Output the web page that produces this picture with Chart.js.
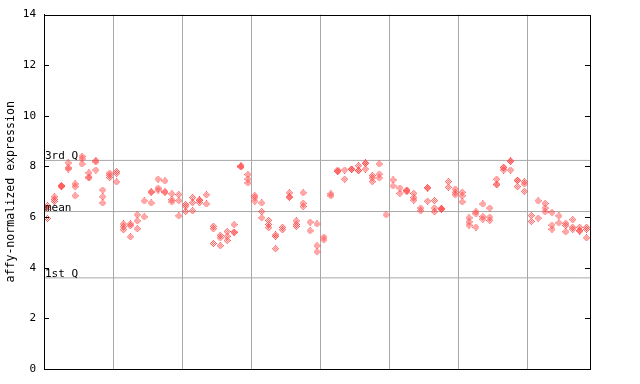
<!DOCTYPE html>
<html>
<head>
<meta charset="utf-8">
<script src="https://cdn.jsdelivr.net/npm/chart.js@4/dist/chart.umd.min.js"></script>
<style>
    html, body { margin: 0; padding: 0; background: #fff; }
    canvas { display: block; }
</style>
</head>
<body>
<canvas id="exprChart" width="640" height="384"></canvas>
<script>
// replicate values per sample (one inner array per sample column)
const sampleValues = [
    [6.45, 6.35, 5.95], [6.8, 6.7, 6.62], [7.25, 7.2, 7.22], [8.14, 7.95, 7.9],
    [7.31, 7.2, 6.84], [8.4, 8.3, 8.1], [7.75, 7.58, 7.55], [8.23, 8.18, 7.86],
    [7.07, 6.8, 6.56], [7.74, 7.66, 7.56], [7.8, 7.73, 7.39], [5.73, 5.62, 5.5],
    [5.73, 5.66, 5.22], [6.09, 5.85, 5.54], [6.64, 6.01], [6.98, 7.0, 6.56],
    [7.5, 7.15, 7.07], [7.43, 6.98, 7.0], [6.92, 6.69, 6.6], [6.89, 6.65, 6.05],
    [6.5, 6.43, 6.22], [6.77, 6.57, 6.25], [6.68, 6.66, 6.57], [6.88, 6.52],
    [5.64, 5.54, 4.96], [5.28, 5.18, 4.87], [5.43, 5.24, 5.08], [5.7, 5.41, 5.39],
    [8.02, 8.0, 7.98], [7.68, 7.5, 7.35], [6.85, 6.77, 6.63], [6.56, 6.22, 5.97],
    [5.87, 5.71, 5.58], [5.3, 5.24, 4.75], [5.6, 5.5], [6.96, 6.78, 6.8],
    [5.85, 5.71, 5.63], [6.96, 6.55, 6.42], [5.8, 5.46], [5.73, 4.87, 4.63],
    [5.21, 5.1], [6.92, 6.84], [7.86, 7.81, 7.8], [7.86, 7.5],
    [7.89, 7.9, 7.88], [8.03, 7.83, 7.85], [8.12, 8.14, 7.9], [7.64, 7.55, 7.4],
    [8.1, 7.7, 7.55], [6.09], [7.47, 7.23], [7.15, 6.94],
    [7.07, 7.05, 7.0], [6.94, 6.77, 6.67], [6.36, 6.25], [7.17, 7.15, 6.63],
    [6.65, 6.36, 6.21], [6.33, 6.31, 6.35], [7.4, 7.18], [7.11, 6.97, 6.88],
    [6.98, 6.84, 6.6], [5.97, 5.81, 5.68], [6.21, 6.13, 5.6], [6.52, 6.02, 5.92],
    [6.36, 6.0, 5.87], [7.5, 7.3, 7.28], [7.97, 7.95, 7.86], [8.2, 8.22, 7.86],
    [7.44, 7.46, 7.2], [7.4, 7.31, 7.02], [6.06, 5.83], [6.64, 5.96],
    [6.54, 6.36, 6.21], [6.18, 5.68, 5.52], [6.05, 5.77], [5.76, 5.67, 5.42],
    [5.9, 5.6, 5.52], [5.6, 5.47, 5.45], [5.6, 5.52, 5.18]
];
const yTicks = [0, 2, 4, 6, 8, 10, 12, 14];
const xGridStops = [10, 20, 30, 40, 50, 60, 70];
const statLabels = ['3rd Q', 'mean', '1st Q'];
const statValues = [8.24, 6.22, 3.6];

const MONO = '"DejaVu Sans Mono", "Liberation Mono", monospace';
const RED = '#ff4f4f';
const GRID = '#a8a8a8';

// checkered diamond like the original plot marker
function makeDiamond(color) {
    const c = document.createElement('canvas');
    c.width = 7; c.height = 7;
    const g = c.getContext('2d');
    g.fillStyle = color;
    for (let y = 0; y < 7; y++) {
        for (let x = 0; x < 7; x++) {
            const d = Math.abs(x - 3) + Math.abs(y - 3);
            if (d <= 3 && d % 2 === 1) g.fillRect(x, y, 1, 1);
        }
    }
    return c;
}

const nSamples = sampleValues.length;
const points = [];
sampleValues.forEach((vals, i) => {
    vals.forEach(v => points.push({ x: i + 0.5, y: v }));
});

const statDatasets = statValues.map((v, i) => ({
    type: 'line',
    label: statLabels[i],
    data: [{ x: 0, y: v }, { x: nSamples, y: v }],
    borderColor: GRID,
    borderWidth: 1,
    pointRadius: 0,
    order: 2
}));

const framePlugin = {
    id: 'frame',
    afterDraw(chart) {
        const { ctx, chartArea: a, scales } = chart;
        ctx.save();
        ctx.strokeStyle = '#000';
        ctx.lineWidth = 1;
        ctx.strokeRect(Math.round(a.left) + 0.5, Math.round(a.top) + 0.5,
            Math.round(a.right - a.left), Math.round(a.bottom - a.top));
        // inner tick marks on both sides
        ctx.beginPath();
        yTicks.forEach(t => {
            const y = Math.round(scales.y.getPixelForValue(t)) + 0.5;
            ctx.moveTo(a.left, y); ctx.lineTo(a.left + 5, y);
            ctx.moveTo(a.right - 5, y); ctx.lineTo(a.right, y);
        });
        ctx.stroke();
        // stat labels
        ctx.fillStyle = '#000';
        ctx.font = '11px ' + MONO;
        ctx.textBaseline = 'alphabetic';
        ctx.textAlign = 'left';
        statValues.forEach((v, i) => {
            const y = scales.y.getPixelForValue(v);
            ctx.fillText(statLabels[i], a.left + 1, y - 1);
        });
        ctx.restore();
    }
};

new Chart(document.getElementById('exprChart').getContext('2d'), {
    type: 'scatter',
    data: {
        datasets: [{
            label: 'expression',
            data: points,
            pointStyle: makeDiamond(RED),
            pointRadius: 3.5,
            order: 1
        }, ...statDatasets]
    },
    options: {
        responsive: false,
        devicePixelRatio: 1,
        animation: false,
        layout: { padding: { top: 14, right: 50, bottom: 15, left: 0 } },
        plugins: {
            legend: { display: false },
            tooltip: { enabled: false }
        },
        scales: {
            x: {
                type: 'linear',
                min: 0,
                max: nSamples,
                afterBuildTicks: s => { s.ticks = xGridStops.map(v => ({ value: v })); },
                ticks: { display: false },
                grid: { color: GRID, drawTicks: false },
                border: { display: false },
                afterFit: s => { s.height = 0; }
            },
            y: {
                min: 0,
                max: 14,
                afterBuildTicks: s => { s.ticks = yTicks.map(v => ({ value: v })); },
                ticks: { color: '#000', font: { family: MONO, size: 11 }, padding: 8 },
                grid: { display: false, drawTicks: false },
                border: { display: true, color: '#000' },
                title: {
                    display: true,
                    text: 'affy-normalized expression',
                    color: '#000',
                    font: { family: MONO, size: 11.6 },
                    padding: { top: 4, bottom: 0 }
                },
                afterFit: s => { s.width = 44; }
            }
        }
    },
    plugins: [framePlugin]
});
</script>
</body>
</html>
